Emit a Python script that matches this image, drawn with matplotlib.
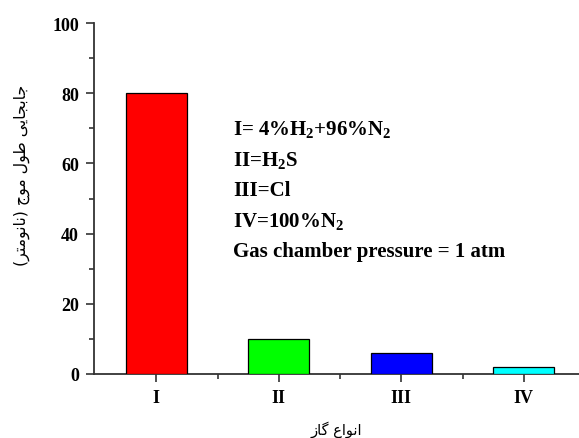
import matplotlib
matplotlib.use("Agg")
import matplotlib.pyplot as plt
from matplotlib.ticker import MultipleLocator, FixedLocator

plt.rcParams['mathtext.fontset'] = 'custom'
plt.rcParams['mathtext.rm'] = 'Liberation Serif:bold'
plt.rcParams['mathtext.default'] = 'rm'

# data
gases = ['I', 'II', 'III', 'IV']
shift_nm = [80, 10, 6, 2]
bar_colors = ['#ff0000', '#00ff00', '#0000ff', '#00ffff']
notes = ['I= 4%H$_2$+96%N$_2$', 'II=H$_2$S', 'III=Cl', 'IV=100%N$_2$',
         'Gas chamber pressure = 1 atm']

# persian labels (presentation forms, visual order)
xlab = '\uFEAF\uFE8E\uFB94 \uFEC9\uFE8D\uFEEE\uFEE7\uFE8D'
ylab = ('(\uFEAE\uFE98\uFEE3\uFEEE\uFEE7\uFE8E\uFEE7) \uFE9D\uFEEE\uFEE3 '
        '\uFEDD\uFEEE\uFEC3 \uFBFD\uFBFE\uFE8E\uFEA0\uFE91\uFE8E\uFE9F')

fig = plt.figure(figsize=(5.79, 4.39), dpi=100)
ax = fig.add_axes([0.163, 0.146, 0.837, 0.799])

pos = list(range(1, len(gases) + 1))
ax.bar(pos, shift_nm, width=0.5, color=bar_colors, edgecolor='black', linewidth=0.9, zorder=3)

ax.set_xlim(0.495, 4.45)
ax.set_ylim(0, 100)
ax.set_xticks(pos)
ax.set_xticklabels(gases)
ax.xaxis.set_minor_locator(FixedLocator([1.5, 2.5, 3.5]))
ax.yaxis.set_major_locator(MultipleLocator(20))
ax.yaxis.set_minor_locator(MultipleLocator(10))

for s in ['top', 'right']:
    ax.spines[s].set_visible(False)
for s in ['left', 'bottom']:
    ax.spines[s].set_color('#333333')
    ax.spines[s].set_linewidth(1.3)

ax.tick_params(which='major', direction='out', length=6, width=1.2, color='#333333')
ax.tick_params(which='minor', direction='out', length=3.5, width=1.2, color='#333333')
for lab in ax.get_xticklabels() + ax.get_yticklabels():
    lab.set_fontfamily('Liberation Serif')
    lab.set_fontweight('bold')
    lab.set_fontsize(13)
ax.tick_params(axis='x', pad=5)
ax.tick_params(axis='y', pad=5)

ax.set_xlabel(xlab, fontfamily='DejaVu Sans', fontsize=10.5, labelpad=10)
ax.set_ylabel(ylab, fontfamily='DejaVu Sans', fontsize=11.3)
ax.yaxis.set_label_coords(-0.132, 0.57)

for i, t in enumerate(notes):
    ax.text(0.286, 0.70 - i * 0.0875, t, transform=ax.transAxes,
            fontfamily='Liberation Serif', fontweight='bold', fontsize=15, va='center')

fig.savefig('out.png', dpi=100)
